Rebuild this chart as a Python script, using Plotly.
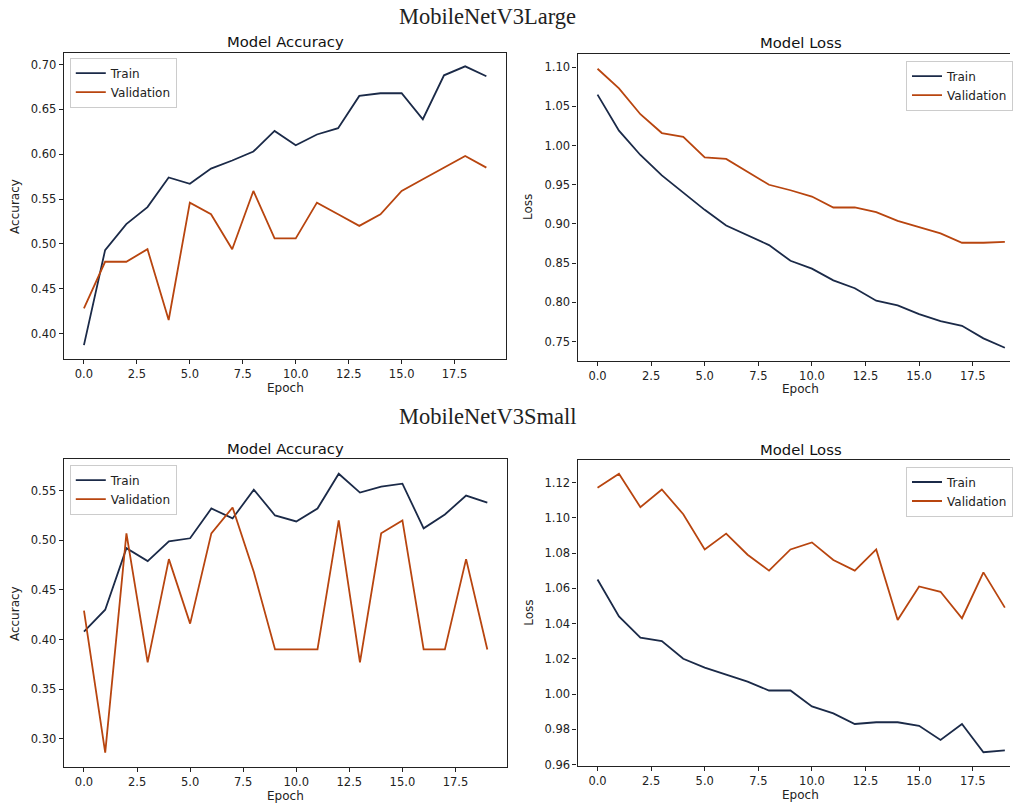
import plotly.graph_objects as go

W, H = 1013, 809

epochs = list(range(20))

large_acc_train = [0.387, 0.493, 0.522, 0.541, 0.574, 0.567, 0.584, 0.593, 0.603, 0.626,
                   0.610, 0.622, 0.629, 0.665, 0.668, 0.668, 0.639, 0.688, 0.698, 0.687]
large_acc_val = [0.428, 0.480, 0.480, 0.494, 0.415, 0.546, 0.533, 0.494, 0.559, 0.506,
                 0.506, 0.546, 0.533, 0.520, 0.533, 0.559, 0.572, 0.585, 0.598, 0.585]
large_loss_train = [1.065, 1.019, 0.988, 0.962, 0.940, 0.918, 0.898, 0.885, 0.873, 0.853,
                    0.843, 0.828, 0.818, 0.802, 0.796, 0.785, 0.776, 0.770, 0.754, 0.742]
large_loss_val = [1.098, 1.073, 1.040, 1.016, 1.011, 0.985, 0.983, 0.966, 0.950, 0.943,
                  0.935, 0.921, 0.921, 0.915, 0.904, 0.896, 0.888, 0.876, 0.876, 0.877]

small_acc_train = [0.408, 0.430, 0.492, 0.479, 0.499, 0.502, 0.532, 0.522, 0.551, 0.525,
                   0.519, 0.532, 0.567, 0.548, 0.554, 0.557, 0.512, 0.526, 0.545, 0.538]
small_acc_val = [0.429, 0.286, 0.507, 0.377, 0.481, 0.416, 0.507, 0.533, 0.468, 0.390,
                 0.390, 0.390, 0.520, 0.377, 0.507, 0.520, 0.390, 0.390, 0.481, 0.390]
small_loss_train = [1.065, 1.044, 1.032, 1.030, 1.020, 1.015, 1.011, 1.007, 1.002, 1.002,
                    0.993, 0.989, 0.983, 0.984, 0.984, 0.982, 0.974, 0.983, 0.967, 0.968]
small_loss_val = [1.117, 1.125, 1.106, 1.116, 1.102, 1.082, 1.091, 1.079, 1.070, 1.082,
                  1.086, 1.076, 1.070, 1.082, 1.042, 1.061, 1.058, 1.043, 1.069, 1.049]

series_names = ["Train", "Validation"]
colors = ["#1b2a48", "#b8450f"]

x_ticks = [0, 2.5, 5, 7.5, 10, 12.5, 15, 17.5]
x_ticktext = ["0.0", "2.5", "5.0", "7.5", "10.0", "12.5", "15.0", "17.5"]

# panel boxes in pixels: (left, right, top, bottom), x range, y range, y ticks
panels = [
    dict(box=(64, 508, 53.3, 361.7), xr=[-0.95, 19.95], yr=[0.3715, 0.713],
         yt=[0.40, 0.45, 0.50, 0.55, 0.60, 0.65, 0.70], fmt=".2f",
         data=(large_acc_train, large_acc_val), title="Model Accuracy", ylab="Accuracy",
         legend=(70, 58)),
    dict(box=(579.3, 1013, 54.3, 363.3), xr=[-0.93, 19.24], yr=[0.7256, 1.117],
         yt=[0.75, 0.80, 0.85, 0.90, 0.95, 1.00, 1.05, 1.10], fmt=".2f",
         data=(large_loss_train, large_loss_val), title="Model Loss", ylab="Loss",
         legend=(909, 61)),
    dict(box=(64, 509, 462.7, 772.7), xr=[-0.95, 19.95], yr=[0.2716, 0.5816],
         yt=[0.30, 0.35, 0.40, 0.45, 0.50, 0.55], fmt=".2f",
         data=(small_acc_train, small_acc_val), title="Model Accuracy", ylab="Accuracy",
         legend=(70, 468)),
    dict(box=(579.3, 1013, 463.7, 771.7), xr=[-0.93, 19.24], yr=[0.9592, 1.1326],
         yt=[0.96, 0.98, 1.00, 1.02, 1.04, 1.06, 1.08, 1.10, 1.12], fmt=".2f",
         data=(small_loss_train, small_loss_val), title="Model Loss", ylab="Loss",
         legend=(909, 470)),
]

fig = go.Figure()
font_main = "DejaVu Sans"
annotations = []
layout = {}

for i, p in enumerate(panels):
    n = "" if i == 0 else str(i + 1)
    l, r, t, b = p["box"]
    xa = dict(domain=[l / W, r / W], range=p["xr"], tickvals=x_ticks, ticktext=x_ticktext,
              showgrid=False, zeroline=False, showline=True, linecolor="#222", linewidth=1.4,
              mirror=True, ticks="outside", ticklen=4, tickcolor="#222",
              tickfont=dict(family=font_main, size=11.5, color="#222"),
              anchor="y" + n, fixedrange=True)
    ya = dict(domain=[1 - b / H, 1 - t / H], range=p["yr"], tickvals=p["yt"],
              ticktext=[format(v, p["fmt"]) for v in p["yt"]],
              showgrid=False, zeroline=False, showline=True, linecolor="#222", linewidth=1.4,
              mirror=(i % 2 == 0), ticks="outside", ticklen=4, tickcolor="#222",
              tickfont=dict(family=font_main, size=11.5, color="#222"),
              anchor="x" + n, fixedrange=True)
    layout["xaxis" + n] = xa
    layout["yaxis" + n] = ya
    lg = "legend" + n
    lx, ly = p["legend"]
    layout[lg] = dict(x=lx / W, y=1 - ly / H, xanchor="left", yanchor="top",
                      bgcolor="rgba(255,255,255,0.9)", bordercolor="#cccccc", borderwidth=1,
                      font=dict(family=font_main, size=12, color="#222"),
                      tracegroupgap=0, itemwidth=30)
    for s, (vals, name, col) in enumerate(zip(p["data"], series_names, colors)):
        fig.add_trace(go.Scatter(x=epochs, y=vals, mode="lines", name=name,
                                 line=dict(color=col, width=1.8),
                                 xaxis="x" + n, yaxis="y" + n, legend=lg))
    # subplot title
    cx = (l + r) / 2 if i % 2 == 0 else 803
    annotations.append(dict(text=p["title"], x=cx / W, y=1 - (t - 11) / H, xref="paper",
                            yref="paper", showarrow=False, xanchor="center", yanchor="middle",
                            font=dict(family=font_main, size=14.8, color="#111")))
    # x label
    annotations.append(dict(text="Epoch", x=cx / W, y=1 - (b + 29) / H, xref="paper",
                            yref="paper", showarrow=False, xanchor="center", yanchor="middle",
                            font=dict(family=font_main, size=12, color="#222")))
    # y label
    annotations.append(dict(text=p["ylab"], x=(l - 49) / W, y=1 - ((t + b) / 2) / H,
                            xref="paper", yref="paper", showarrow=False, textangle=-90,
                            xanchor="center", yanchor="middle",
                            font=dict(family=font_main, size=12, color="#222")))

model_titles = ["MobileNetV3Large", "MobileNetV3Small"]
for k, (mt, yy) in enumerate(zip(model_titles, [17, 420])):
    annotations.append(dict(text=mt, x=489 / W, y=1 - yy / H, xref="paper", yref="paper",
                            showarrow=False, xanchor="center", yanchor="middle",
                            font=dict(family="Liberation Serif", size=22.5, color="#222")))

fig.update_layout(width=W, height=H, margin=dict(l=0, r=0, t=0, b=0),
                  paper_bgcolor="white", plot_bgcolor="white",
                  annotations=annotations, **layout)

fig.write_html("out.html", config={"displayModeBar": False},
               post_script="document.body.style.margin='0';document.body.style.overflow='hidden';")
